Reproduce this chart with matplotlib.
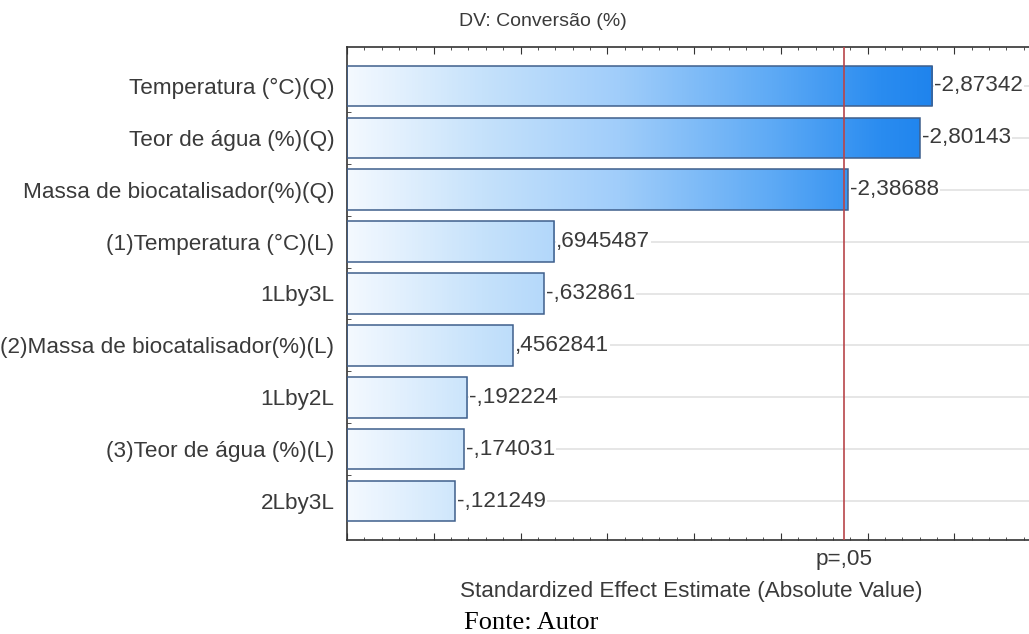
import numpy as np
import matplotlib
matplotlib.use('Agg')
import matplotlib.pyplot as plt
from matplotlib.colors import LinearSegmentedColormap
from matplotlib.ticker import MultipleLocator

# data
#
factors = ['Temperatura (°C)(Q)', 'Teor de água (%)(Q)', 'Massa de biocatalisador(%)(Q)',
           '(1)Temperatura (°C)(L)', '1Lby3L', '(2)Massa de biocatalisador(%)(L)',
           '1Lby2L', '(3)Teor de água (%)(L)', '2Lby3L']
effects = [2.87342, 2.80143, 2.38688, 0.6945487, 0.632861, 0.4562841,
           0.192224, 0.174031, 0.121249]
value_labels = ['-2,87342', '-2,80143', '-2,38688', ',6945487', '-,632861', ',4562841',
                '-,192224', '-,174031', '-,121249']
p_limit = 2.365

plt.rcParams['font.family'] = ['Liberation Sans', 'DejaVu Sans']
txt = '#3a3a3a'
fs = 16.2

# plot
#
fig = plt.figure(figsize=(10.29, 6.34), dpi=100)
ax = fig.add_axes([347 / 1029, 1 - 540 / 634, 1 - 347 / 1029, 493 / 634])

x0, x1 = -0.5, 3.43
ax.set_xlim(x0, x1)
ax.set_ylim(8.75, -0.75)

ypos = np.arange(len(factors))
for y in ypos:
    ax.axhline(y, color='#e2e2e2', linewidth=1.2, zorder=0)

cmap = LinearSegmentedColormap.from_list(
    'bars', [(0.0, '#f4f9ff'), (0.22, '#c6e2fb'), (0.45, '#a0cdfa'),
             (0.7, '#5eaaf5'), (0.88, '#2a8cf0'), (1.0, '#1a80ec')])
grad = np.linspace(0, 1, 512).reshape(1, -1)

bars = ax.barh(ypos, [e - x0 for e in effects], left=x0, height=0.78,
               facecolor='none', edgecolor='#3f5f8c', linewidth=1.1, zorder=3)
for b in bars:
    im = ax.imshow(grad, cmap=cmap, aspect='auto', extent=(x0, 3.0, 8.75, -0.75),
                   vmin=0, vmax=1, zorder=2, interpolation='bilinear')
    im.set_clip_path(b)
ax.set_xlim(x0, x1)
ax.set_ylim(8.75, -0.75)

for y, e, lab in zip(ypos, effects, value_labels):
    ax.text(e + 0.012, y, lab, ha='left', va='center', fontsize=fs, color=txt,
            zorder=4, bbox=dict(facecolor='white', edgecolor='none', pad=0.5))

ax.axvline(p_limit, color='#b8454a', linewidth=1.2, zorder=5)

# axes styling
#
ax.spines['right'].set_visible(False)
for s in ['left', 'top', 'bottom']:
    ax.spines[s].set_color('#333333')
    ax.spines[s].set_linewidth(1.2)
ax.xaxis.set_major_locator(MultipleLocator(0.5))
ax.xaxis.set_minor_locator(MultipleLocator(0.1))
ax.tick_params(axis='x', which='both', direction='in', top=True, bottom=True,
               labelbottom=False, color='#333333')
ax.tick_params(axis='x', which='major', length=5)
ax.tick_params(axis='x', which='minor', length=2.5)
ax.set_yticks(ypos)
ax.set_yticks(ypos[:-1] + 0.5, minor=True)
ax.set_yticklabels(factors, fontsize=fs, color=txt)
ax.tick_params(axis='y', which='both', direction='in', color='#333333', pad=9)
ax.tick_params(axis='y', which='major', length=4)
ax.tick_params(axis='y', which='minor', length=3)

# label
#
fig.text(543 / 1029, 1 - 21 / 634, 'DV: Conversão (%)', ha='center', va='center',
         fontsize=14, color=txt)
ax.text(p_limit, 8.75 + 0.38, 'p=,05', ha='center', va='center', fontsize=fs,
        color=txt)
fig.text(691 / 1029, 1 - 592 / 634, 'Standardized Effect Estimate (Absolute Value)',
         ha='center', va='center', fontsize=fs, color=txt)
fig.text(531 / 1029, 1 - 623 / 634, 'Fonte: Autor', ha='center', va='center',
         fontsize=19, color='black', family='Liberation Serif')

# output
#
plt.savefig('out.png', dpi=100)
